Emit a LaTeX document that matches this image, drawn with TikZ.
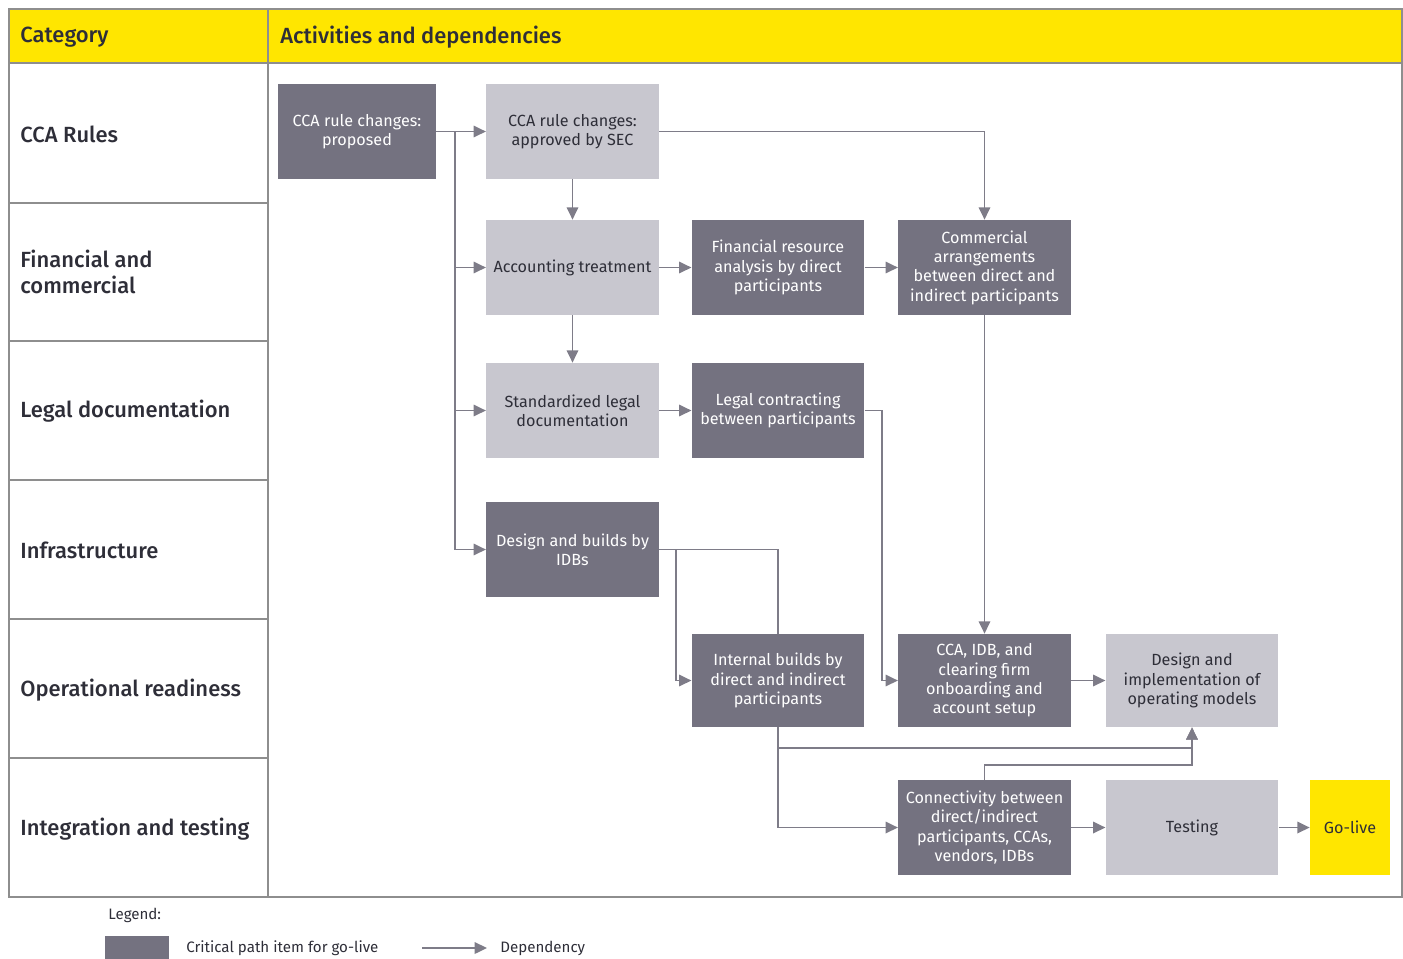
\documentclass[tikz,border=0pt]{standalone}
\usepackage{fontspec}
\setmainfont{Fira Sans}[BoldFont={Fira Sans Medium}]
\usetikzlibrary{arrows.meta, positioning}

\definecolor{eydark}{HTML}{747280}
\definecolor{eylight}{HTML}{C8C7CF}
\definecolor{eyyellow}{HTML}{FFE600}
\definecolor{eyline}{HTML}{7E7C88}
\definecolor{eygrid}{HTML}{8E8E8E}
\definecolor{eytext}{HTML}{2E2E38}

\begin{document}
\begin{tikzpicture}[x=0.02cm,y=-0.02cm,>={Triangle[length=7pt,width=6.5pt]}]
  \tikzstyle{box}=[minimum width=3.45cm, minimum height=1.9cm, inner sep=2pt, align=center, font=\fontsize{9.2}{11}\selectfont]
  \tikzstyle{crit}=[box, fill=eydark, text=white]
  \tikzstyle{task}=[box, fill=eylight, text=eytext]
  \tikzstyle{dep}=[draw=eyline, line width=1.1pt]
  \tikzstyle{cat}=[anchor=west, align=left, inner sep=0pt, text=eytext, font=\bfseries\fontsize{12.5}{15}\selectfont]

  \useasboundingbox (0,0) rectangle (1403,958);

  % table
  \fill[eyyellow] (9,9) rectangle (1403,63);
  \draw[eygrid, line width=0.8pt] (1402,9) -- (9,9) -- (9,897) -- (1402,897) -- cycle;
  \draw[eygrid, line width=0.8pt] (268,9) -- (268,897);
  \draw[eygrid, line width=0.8pt] (9,63) -- (1402,63);
  \foreach \y in {203,341,480,619,758}
    \draw[eygrid, line width=0.8pt] (9,\y) -- (268,\y);

  \node[cat] (hdcat) at (20,37) {Category};
  \node[cat] (hdact) at (280,37) {Activities and dependencies};
  \node[cat] (rules)  at (20,134) {CCA Rules};
  \node[cat] (fincom) at (20,272) {Financial and\\commercial};
  \node[cat] (legal)  at (20,411) {Legal documentation};
  \node[cat] (infra)  at (20,550) {Infrastructure};
  \node[cat] (oprd)   at (20,690) {Operational readiness};
  \node[cat] (integ)  at (20,829) {Integration and testing};

  % activities
  \node[crit, minimum width=3.16cm] (prop) at (357,131.5) {CCA rule changes:\\proposed};
  \node[task] (appr) at (572.5,131.5) {CCA rule changes:\\approved by SEC};
  \node[task] (acct) at (572.5,267.5) {Accounting treatment};
  \node[crit] (finres) at (778,267.5) {Financial resource\\analysis by direct\\participants};
  \node[crit] (comm) at (984.5,267.5) {Commercial\\arrangements\\between direct and\\indirect participants};
  \node[task] (stdleg) at (572.5,410.5) {Standardized legal\\documentation};
  \node[crit] (legcon) at (778,410.5) {Legal contracting\\between participants};
  \node[crit] (idb) at (572.5,549.5) {Design and builds by\\IDBs};
  \node[crit, minimum height=1.86cm] (intb) at (778,680.5) {Internal builds by\\direct and indirect\\participants};
  \node[crit, minimum height=1.86cm] (onbd) at (984.5,680.5) {CCA, IDB, and\\clearing firm\\onboarding and\\account setup};
  \node[task, minimum height=1.86cm] (opmod) at (1192,680.5) {Design and\\implementation of\\operating models};
  \node[crit] (conn) at (984.5,827.5) {Connectivity between\\direct/indirect\\participants, CCAs,\\vendors, IDBs};
  \node[task] (test) at (1192,827.5) {Testing};
  \node[box, fill=eyyellow, text=eytext, minimum width=1.6cm] (golive) at (1350,827.5) {Go-live};

  \coordinate (trunk) at (455,131.5);
  \coordinate (split) at (676,549.5);

  \draw[dep,->] (prop) -- (appr);
  \draw[dep,->] (trunk) |- (acct.west);
  \draw[dep,->] (trunk) |- (stdleg.west);
  \draw[dep,->] (trunk) |- (idb.west);
  \draw[dep,->] (appr) -- (acct);
  \draw[dep,->] (appr.east) -| (comm.north);
  \draw[dep,->] (acct) -- (finres);
  \draw[dep,->] (finres) -- (comm);
  \draw[dep,->] (acct) -- (stdleg);
  \draw[dep,->] (stdleg) -- (legcon);
  \draw[dep,->] (legcon.east) -- ++(17,0) |- (onbd.west);
  \draw[dep,->] (comm) -- (onbd);
  \draw[dep] (idb.east) -| (intb.north);
  \draw[dep,->] (split) |- (intb.west);
  \draw[dep,->] (intb.south) |- (conn.west);
  \draw[dep,->] (intb.south) ++(0,21) -| (opmod.south);
  \draw[dep,->] (conn.north) -- ++(0,-15) -| (opmod.south);
  \draw[dep,->] (onbd) -- (opmod);
  \draw[dep,->] (conn) -- (test);
  \draw[dep,->] (test) -- (golive);

  % legend
  \node[anchor=west, inner sep=0pt, text=eytext, font=\fontsize{8.6}{10}\selectfont] (lgd) at (108,915) {Legend:};
  \node[fill=eydark, minimum width=1.28cm, minimum height=0.5cm, anchor=north west, inner sep=0pt] (lgbox) at (105,936) {};
  \node[anchor=west, inner sep=0pt, text=eytext, font=\fontsize{8.6}{10}\selectfont] (lgcrit) at (186,948) {Critical path item for go-live};
  \coordinate (lgfrom) at (422,948);
  \node[anchor=west, inner sep=0pt, text=eytext, font=\fontsize{8.6}{10}\selectfont] (lgdep) at (500,948) {Dependency};
  \draw[dep,->] (lgfrom) -- ++(65,0);
\end{tikzpicture}
\end{document}
